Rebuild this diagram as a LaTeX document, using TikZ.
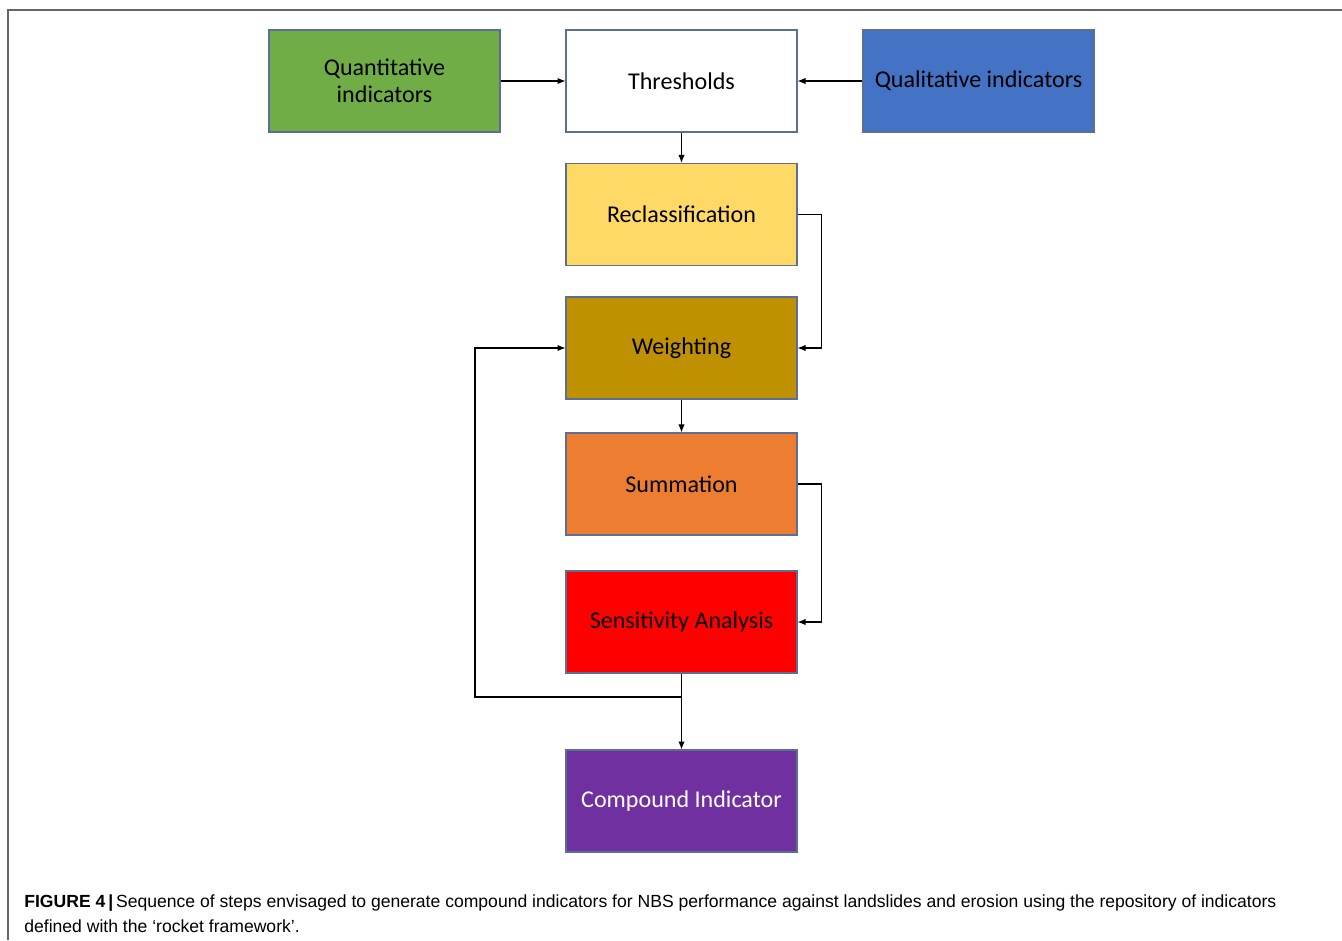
\documentclass[tikz,border=0pt]{standalone}
\usepackage{fontspec}
\setmainfont{Carlito}
\newfontfamily\capfont{Liberation Sans}
\usetikzlibrary{positioning,arrows.meta}

\definecolor{quantgreen}{HTML}{70AD47}
\definecolor{qualblue}{HTML}{4472C4}
\definecolor{reclyellow}{HTML}{FFD966}
\definecolor{weightgold}{HTML}{BF9000}
\definecolor{sumorange}{HTML}{ED7D31}
\definecolor{sensred}{HTML}{FF0000}
\definecolor{comppurple}{HTML}{7030A0}
\definecolor{boxline}{HTML}{5A6E96}

\tikzset{
	stepbox/.style={draw=boxline,line width=.7pt,minimum width=4.62cm,minimum height=2.04cm,
		align=center,font=\fontsize{13.7}{15.5}\selectfont,inner sep=0pt},
	link/.style={->,line width=.6pt}
}

\begin{document}
\begin{tikzpicture}[>={Latex[length=4.5pt,width=3.6pt]},x=.02cm,y=-.02cm]
	\useasboundingbox (0,0) rectangle (1342,940);
	% frame
	\draw[gray!80!black,line width=.8pt] (8,940) -- (8,10) -- (1342,10);
	% top row
	\node[stepbox,fill=quantgreen] (quant) at (384.5,81) {Quantitative\\indicators};
	\node[stepbox,fill=white] (thresh) at (681.5,81) {Thresholds};
	\node[stepbox,fill=qualblue] (qual) at (978.5,81) {Qualitative indicators};
	% column
	\node[stepbox,fill=reclyellow] (recl) at (681.5,214.5) {Reclassification};
	\node[stepbox,fill=weightgold] (weight) at (681.5,348) {Weighting};
	\node[stepbox,fill=sumorange] (summ) at (681.5,484) {Summation};
	\node[stepbox,fill=sensred] (sens) at (681.5,622) {Sensitivity Analysis};
	\node[stepbox,fill=comppurple,text=white] (comp) at (681.5,801) {Compound Indicator};
	% connectors
	\draw[link] (quant) -- (thresh);
	\draw[link] (qual) -- (thresh);
	\draw[link] (thresh) -- (recl);
	\draw[link] (recl.east) -- ++(24,0) |- (weight.east);
	\draw[link] (weight) -- (summ);
	\draw[link] (summ.east) -- ++(24,0) |- (sens.east);
	\draw[link] (sens) -- (comp);
	\coordinate (fb) at (681.5,697);
	\coordinate (loop) at (475,697);
	\draw[link] (fb) -- (loop) |- (weight.west);
	% caption
	\node[anchor=base west,inner sep=0pt,align=left,font=\capfont\fontsize{10}{14.2}\selectfont] (cap) at (24,932)
		{\textbf{FIGURE 4\,|\,}Sequence of steps envisaged to generate compound indicators for NBS performance against landslides and erosion using the repository of indicators\\defined with the ‘rocket framework’.};
\end{tikzpicture}
\end{document}
